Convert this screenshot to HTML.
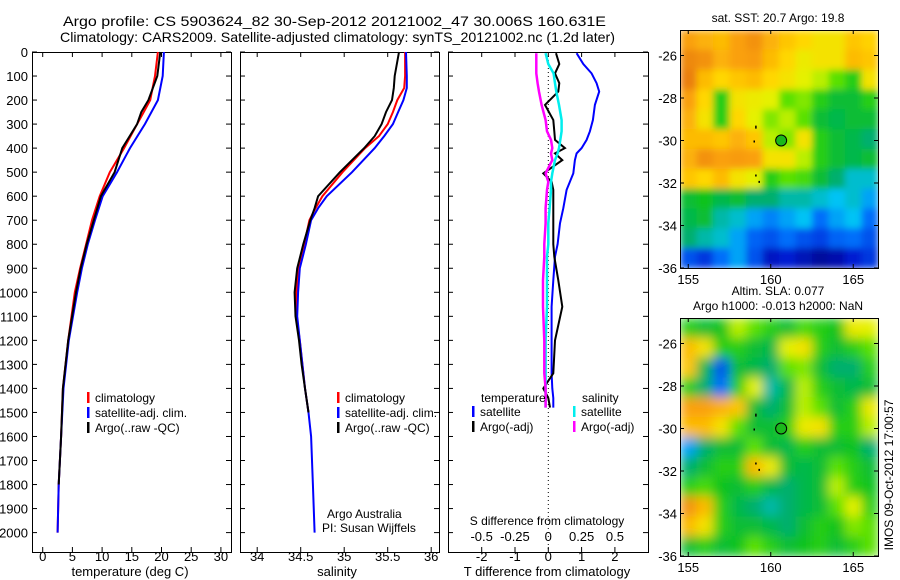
<!DOCTYPE html>
<html><head><meta charset="utf-8"><style>
body{margin:0;background:#fff}
svg{display:block;font-family:"Liberation Sans",sans-serif}
</style></head><body>
<svg id="c" width="900" height="580" xmlns="http://www.w3.org/2000/svg">
<defs>
<filter id="blurA" x="0" y="0" width="1" height="1" filterUnits="objectBoundingBox"><feGaussianBlur stdDeviation="3.5" edgeMode="duplicate"/></filter>
<filter id="blurB" x="0" y="0" width="1" height="1" filterUnits="objectBoundingBox"><feGaussianBlur stdDeviation="5.5" edgeMode="duplicate"/></filter>
</defs>
</svg>
<script>
// ---- data ----
const tDepth=[0,100,200,250,300,400,500,600,700,800,900,1000,1200,1400,1600,1800,2000];
const tClim=[19.4,18.9,18.1,17.0,15.9,13.7,11.3,9.6,8.3,7.3,6.3,5.4,4.3,3.4,3.1,2.7,2.5];
const tSat=[20.4,20.2,19.4,18.3,17.2,14.7,12.5,10.1,8.8,7.6,6.6,5.8,4.4,3.5,3.1,2.7,2.5];
const tArgo=[19.8,19.3,17.8,16.6,15.9,13.4,12.1,9.8,8.6,7.4,6.4,5.6,4.3,3.4,3.1,2.7,2.5];
const sDepth=[0,100,150,200,250,300,350,400,500,600,650,700,800,900,1000,1100,1200,1300,1400,1500,1600,1800,2000];
const sClim=[35.70,35.70,35.69,35.61,35.56,35.50,35.40,35.24,34.98,34.75,34.67,34.60,34.54,34.47,34.45,34.45,34.49,34.52,34.55,34.59,34.62,34.64,34.66];
const sSat=[35.71,35.72,35.72,35.68,35.62,35.56,35.46,35.35,35.09,34.80,34.70,34.62,34.56,34.49,34.47,34.46,34.49,34.52,34.55,34.59,34.62,34.64,34.66];
const sArgo=[35.63,35.58,35.57,35.55,35.48,35.43,35.35,35.23,34.95,34.70,34.66,34.61,34.53,34.46,34.43,34.44,34.48,34.51,34.55,34.59,34.62,34.64,34.66];
const dDepth=[5,50,89,130,165,220,283,330,366,400,422,450,505,540,574,650,713,800,852,950,1060,1200,1337,1400,1440,1480];
const dTsat=[0.85,1.05,1.3,1.45,1.53,1.4,1.34,1.25,1.15,1.0,0.85,0.8,0.75,0.65,0.55,0.45,0.35,0.28,0.2,0.15,0.1,0.1,0.1,0.12,0.15,0.15];
const dTargo=[0.23,0.33,0.2,0.33,0.3,-0.1,0.15,0.18,0.2,0.5,0.2,0.42,-0.15,0.1,0.15,0.15,0.15,0.15,0.18,0.3,0.42,0.2,0.15,-0.15,0,0.05];
const dSsat=[-0.02,0.0,0.04,0.05,0.06,0.08,0.1,0.1,0.09,0.08,0.07,0.05,0.03,0.02,0.02,0.01,0,0,-0.01,-0.01,-0.01,-0.02,-0.02,-0.02,-0.02,-0.02];
const dSargo=[-0.09,-0.09,-0.09,-0.08,-0.07,-0.05,-0.02,-0.01,0.02,0.03,0.02,0.03,-0.02,0,-0.01,-0.02,-0.02,-0.03,-0.03,-0.04,-0.04,-0.03,-0.03,-0.02,-0.02,-0.02];
const depthTicks=[0,100,200,300,400,500,600,700,800,900,1000,1100,1200,1300,1400,1500,1600,1700,1800,1900,2000];
const tTicks=[0,5,10,15,20,25,30];
const sTicks=[34,34.5,35,35.5,36];
const dtTicks=[-2,-1,0,1,2];
const dsTicks=[-0.5,-0.25,0,0.25,0.5];
const latTicks=[-26,-28,-30,-32,-34,-36];
const lonTicks=[155,160,165];
const sstGrid=[
[.85,.82,.8,.85,.88,.82,.78,.75,.72,.72,.78,.76],
[.9,.88,.82,.85,.86,.8,.75,.7,.72,.72,.8,.78],
[.92,.8,.75,.78,.8,.75,.72,.68,.65,.6,.55,.72],
[.85,.75,.55,.72,.7,.68,.6,.62,.55,.5,.5,.55],
[.82,.72,.55,.75,.68,.62,.65,.6,.5,.48,.5,.5],
[.8,.8,.78,.82,.78,.65,.62,.72,.55,.5,.48,.45],
[.82,.88,.85,.86,.85,.72,.72,.65,.55,.5,.48,.5],
[.78,.75,.8,.72,.68,.55,.6,.58,.5,.45,.4,.4],
[.5,.52,.48,.5,.45,.45,.42,.42,.4,.38,.4,.35],
[.48,.5,.42,.4,.35,.32,.35,.38,.3,.35,.38,.3],
[.45,.42,.4,.35,.28,.25,.3,.25,.22,.28,.3,.25],
[.25,.2,.3,.35,.25,.12,.15,.1,.05,.08,.15,.2]];
const slaGrid=[
[.55,.5,.52,.65,.6,.55,.5,.58,.55,.52,.7,.68],
[.8,.72,.55,.55,.5,.48,.68,.72,.55,.5,.55,.6],
[.78,.48,.25,.5,.48,.45,.6,.62,.5,.45,.45,.55],
[.55,.45,.3,.55,.68,.42,.48,.65,.55,.5,.48,.5],
[.85,.85,.82,.78,.5,.45,.5,.65,.6,.5,.55,.7],
[.8,.8,.72,.6,.5,.5,.55,.7,.72,.55,.55,.65],
[.35,.45,.5,.5,.6,.5,.48,.55,.5,.5,.52,.45],
[.45,.5,.55,.55,.8,.7,.5,.48,.5,.6,.55,.5],
[.55,.58,.52,.5,.55,.48,.45,.48,.5,.65,.55,.52],
[.88,.8,.55,.48,.45,.42,.45,.48,.5,.6,.68,.55],
[.8,.72,.55,.5,.5,.48,.45,.5,.55,.52,.62,.6],
[.5,.55,.5,.52,.6,.55,.5,.52,.55,.5,.55,.6]];
const argoPos=[160.63,-30.0];

// ---- drawing ----
const svg=document.getElementById('c');
const NS='http://www.w3.org/2000/svg';
function el(tag,attrs,parent){const e=document.createElementNS(NS,tag);for(const k in attrs)e.setAttribute(k,attrs[k]);(parent||svg).appendChild(e);return e;}
function txt(s,x,y,size,anchor,parent){const t=el('text',{x:x,y:y,'font-size':size,'text-anchor':anchor||'middle',fill:'#000'},parent);t.textContent=s;return t;}
const Y=d=>52+d*0.2403;
const xT=v=>42.7+v*5.94;
const xS=v=>300.7+(v-34.5)*87;
const xDT=v=>548.3+v*33.3;
const xDS=v=>548.3+v*133.3;

function panel(x0,x1,name){
  const g=el('g',{});
  
  
  el('rect',{x:x0+0.5,y:52.5,width:x1-x0,height:500,fill:'none',stroke:'#000','stroke-width':1},g);
  depthTicks.forEach(d=>{el('line',{x1:x0,x2:x0+5,y1:Y(d),y2:Y(d),stroke:'#000'},g);el('line',{x1:x1-5,x2:x1,y1:Y(d),y2:Y(d),stroke:'#000'},g);});
  return g;
}
function line(g,xs,ds,fx,color,w,name){
  const p=el('polyline',{points:xs.map((v,i)=>fx(v).toFixed(1)+','+Y(ds[i]).toFixed(1)).join(' '),fill:'none',stroke:color,'stroke-width':w||2},g);
  
  
}
// title
const t1=txt('Argo profile: CS 5903624_82 30-Sep-2012 20121002_47 30.006S 160.631E',63,26,14,'start');
t1.setAttribute('textLength','543');
t1.setAttribute('lengthAdjust','spacingAndGlyphs');

const t2=txt('Climatology: CARS2009. Satellite-adjusted climatology: synTS_20121002.nc (1.2d later)',60,42,14,'start');
t2.setAttribute('textLength','555');
t2.setAttribute('lengthAdjust','spacingAndGlyphs');


// y labels
const yl=el('g',{});
depthTicks.forEach(d=>txt(String(d),28,Y(d)+5,13,'end',yl));

// panel 1
const p1=panel(32,231,'temperature-panel');
tTicks.forEach(v=>{el('line',{x1:xT(v),x2:xT(v),y1:52,y2:57,stroke:'#000'},p1);el('line',{x1:xT(v),x2:xT(v),y1:547,y2:552,stroke:'#000'},p1);txt(String(v),xT(v),561,13,'middle',p1);});
txt('temperature (deg C)',130,576,13,'middle',p1);
line(p1,tClim,tDepth,xT,'#f00',2,'temp-climatology-line');
line(p1,tSat,tDepth,xT,'#00f',2,'temp-satellite-line');
line(p1,tArgo.slice(0,16),tDepth.slice(0,16),xT,'#000',2,'temp-argo-line');
function legend(g,x,y,items){items.forEach((it,i)=>{el('rect',{x:x,y:y+i*15-10,width:2.5,height:11,fill:it[1]},g);txt(it[0],x+8,y+i*15,12,'start',g);});}
legend(p1,87,402,[['climatology','#f00'],['satellite-adj. clim.','#00f'],['Argo(..raw -QC)','#000']]);

// panel 2
const p2=panel(240,439,'salinity-panel');
sTicks.forEach(v=>{el('line',{x1:xS(v),x2:xS(v),y1:52,y2:57,stroke:'#000'},p2);el('line',{x1:xS(v),x2:xS(v),y1:547,y2:552,stroke:'#000'},p2);txt(String(v),xS(v),561,13,'middle',p2);});
txt('salinity',337,576,13,'middle',p2);
line(p2,sClim.slice(0,20),sDepth.slice(0,20),xS,'#f00',2,'sal-climatology-line');
line(p2,sSat,sDepth,xS,'#00f',2,'sal-satellite-line');
line(p2,sArgo.slice(0,20),sDepth.slice(0,20),xS,'#000',2,'sal-argo-line');
legend(p2,337,402,[['climatology','#f00'],['satellite-adj. clim.','#00f'],['Argo(..raw -QC)','#000']]);
txt('Argo Australia',327,518,12,'start',p2);
txt('PI: Susan Wijffels',322,532,12,'start',p2);

// panel 3
const p3=panel(448,648,'difference-panel');
el('line',{x1:548.3,x2:548.3,y1:52,y2:552,stroke:'#000','stroke-dasharray':'1,3'},p3);
dtTicks.forEach(v=>{el('line',{x1:xDT(v),x2:xDT(v),y1:52,y2:57,stroke:'#000'},p3);el('line',{x1:xDT(v),x2:xDT(v),y1:547,y2:552,stroke:'#000'},p3);txt(String(v),xDT(v),561,13,'middle',p3);});
dsTicks.forEach(v=>txt(String(v),xDS(v),541,13,'middle',p3));
txt('S difference from climatology',547,525,12,'middle',p3);
txt('T difference from climatology',547,576,13,'middle',p3);
line(p3,dTsat,dDepth,xDT,'#00f',2,'t-satellite-diff-line');
line(p3,dTargo,dDepth,xDT,'#000',2,'t-argo-diff-line');
line(p3,dSsat,dDepth,xDS,'#0ee',2.5,'s-satellite-diff-line');
line(p3,dSargo,dDepth,xDS,'#f0f',2.5,'s-argo-diff-line');
txt('temperature',481,402,12,'start',p3);
legend(p3,472,416,[['satellite','#00f'],['Argo(-adj)','#000']]);
txt('salinity',582,402,12,'start',p3);
legend(p3,573,416,[['satellite','#0ee'],['Argo(-adj)','#f0f']]);

// maps
const stops=[[0,[0,0,130]],[0.15,[0,30,210]],[0.3,[0,110,250]],[0.38,[0,195,245]],[0.45,[0,175,110]],[0.52,[10,195,30]],[0.6,[90,225,0]],[0.67,[225,245,0]],[0.75,[255,215,0]],[0.85,[250,160,10]],[1,[215,90,20]]];
function cmap(v){for(let i=1;i<stops.length;i++){if(v<=stops[i][0]){const a=stops[i-1],b=stops[i],f=(v-a[0])/(b[0]-a[0]);return 'rgb('+a[1].map((c,k)=>Math.round(c+(b[1][k]-c)*f)).join(',')+')';}}return 'rgb(215,90,20)';}
function map(y0,grid,name,titleLines,filt){
  const x0=680,x1=878,y1=y0+238;
  const lx=v=>x0+(v-154.5)*(x1-x0)/12;
  const ly=v=>y0+(-24.8-v)*(y1-y0)/11.2;
  const g=el('g',{});
  const cg=el('g',{filter:'url(#'+filt+')'},g);
  const nr=grid.length,nc=grid[0].length,cw=(x1-x0)/nc,ch=(y1-y0)/nr;
  grid.forEach((row,r)=>row.forEach((v,c)=>{const cell=el('rect',{x:x0+c*cw,y:y0+r*ch,width:cw+0.6,height:ch+0.6,fill:cmap(v)},cg);}));
  el('rect',{x:x0+0.5,y:y0+0.5,width:x1-x0,height:y1-y0,fill:'none',stroke:'#000'},g);
  latTicks.forEach(v=>{el('line',{x1:x0,x2:x0+4,y1:ly(v),y2:ly(v),stroke:'#000'},g);el('line',{x1:x1-4,x2:x1,y1:ly(v),y2:ly(v),stroke:'#000'},g);txt(String(v),x0-3,ly(v)+5,13,'end',g);});
  lonTicks.forEach(v=>{el('line',{x1:lx(v),x2:lx(v),y1:y0,y2:y0+4,stroke:'#000'},g);el('line',{x1:lx(v),x2:lx(v),y1:y1-4,y2:y1,stroke:'#000'},g);txt(String(v),lx(v),y1+16,13,'middle',g);});
  el('circle',{cx:lx(argoPos[0]),cy:ly(argoPos[1]),r:5.5,fill:'#1bb81b',stroke:'#000','stroke-width':1},g);
  el('path',{d:'M'+(lx(159.1))+' '+ly(-29.3)+'v3 M'+lx(159)+' '+ly(-30)+'v2 M'+lx(159.1)+' '+ly(-31.6)+'v2 M'+lx(159.3)+' '+ly(-31.9)+'v2',stroke:'#000','stroke-width':1.5},g);
  titleLines.forEach((s,i)=>txt(s,778,y0-8-(titleLines.length-1-i)*15,12,'middle',g));
}
map(30,sstGrid,'sst-map',['sat. SST: 20.7 Argo: 19.8'],'blurA');
map(318,slaGrid,'sla-map',['Altim. SLA: 0.077','Argo h1000: -0.013 h2000: NaN'],'blurB');
const side=txt('IMOS 09-Oct-2012 17:00:57',0,0,12,'middle');
side.setAttribute('transform','translate(893,475) rotate(-90)');

</script>
</body></html>
